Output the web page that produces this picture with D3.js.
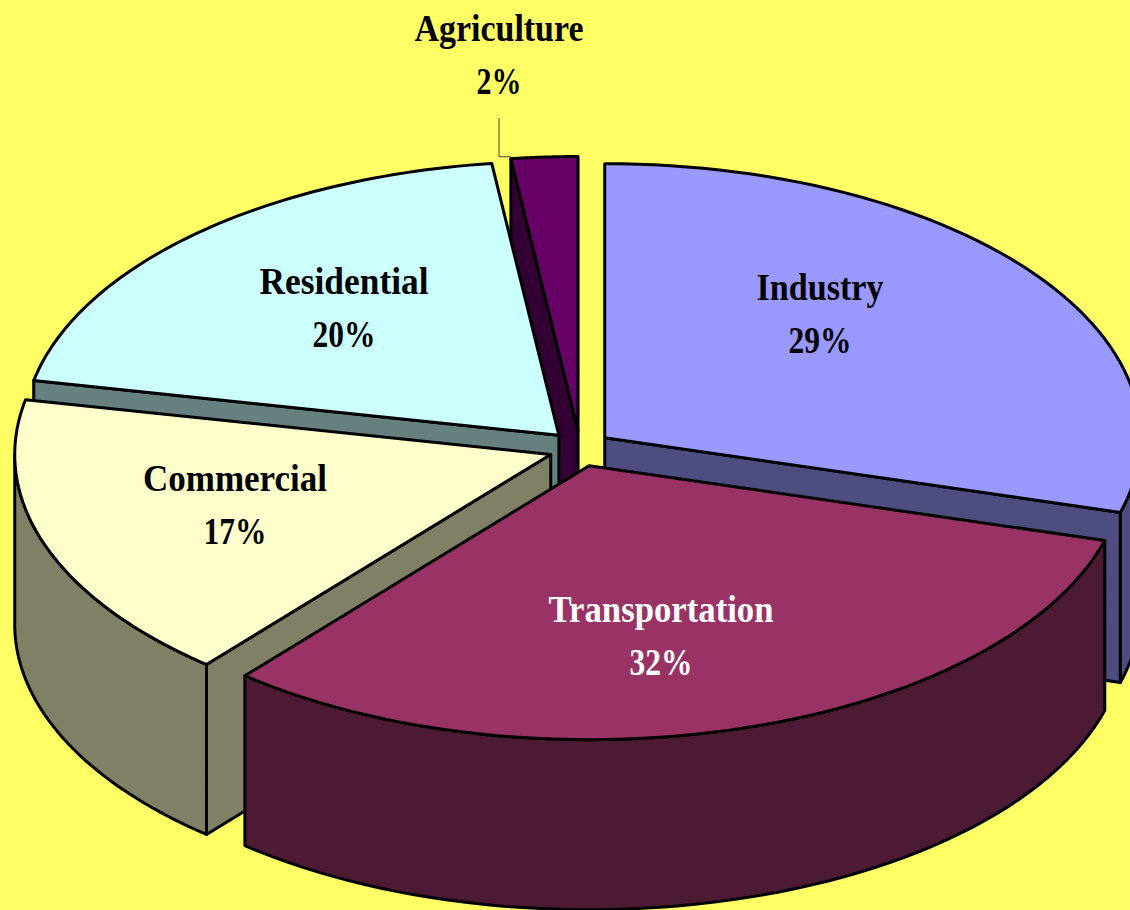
<!DOCTYPE html>
<html>
<head>
<meta charset="utf-8">
<script src="https://cdnjs.cloudflare.com/ajax/libs/d3/7.8.5/d3.min.js"></script>
<style>
html,body{margin:0;padding:0;background:#FFFF66;overflow:hidden}
svg{display:block}
text{font-family:"Liberation Serif",serif;font-weight:bold;font-size:38px;text-anchor:middle}
</style>
</head>
<body>
<svg id="c" width="1130" height="910"></svg>
<script>
// Data
const categories = ["Industry","Transportation","Commercial","Residential","Agriculture"];
const shares = [29.4,31.7,17.1,19.8,2];
const shareLabels = ["29%","32%","17%","20%","2%"];
const topColors = ["#9999FF","#993366","#FFFFCC","#CCFFFF","#660066"];
const wallColors = ["#4D4D80","#4D1A33","#808066","#668080","#330033"];
const labelColors = ["#000","#fff","#000","#000","#000"];
const drawOrder = ["Agriculture","Residential","Industry","Commercial","Transportation"];

// Layout
const W=1130,H=910,cx=580,cy=448.5,rx=536,ry=274,depth=170,explodeX=31,explodeY=18;
const labelAt = {Industry:[820,300],Transportation:[661,622],Commercial:[235,491],Residential:[344,294],Agriculture:[499,41]};
const labelWidths = {Industry:127,Transportation:225,Commercial:184,Residential:169,Agriculture:169};
const lineGap = 53;

const svg = d3.select("#c");
svg.append("rect").attr("width",W).attr("height",H).attr("fill","#FFFF66");

const arcs = d3.pie().sort(null).value(d=>d)(shares);
const line = d3.line();
const slices = categories.map((name,i)=>{
  const a = arcs[i], mid=(a.startAngle+a.endAngle)/2;
  return {name,i,a0:a.startAngle,a1:a.endAngle,
    ox:cx+explodeX*Math.sin(mid), oy:cy-explodeY*Math.cos(mid)};
});
const rim=(s,t,dz=0)=>[s.ox+rx*Math.sin(t), s.oy-ry*Math.cos(t)+dz];
const sample=(t0,t1)=>d3.range(0,61).map(k=>t0+(t1-t0)*k/60);
const quad=(s,t)=>[[s.ox,s.oy],rim(s,t),rim(s,t,depth),[s.ox,s.oy+depth]];
const paint=(g,pts,fill)=>g.append("path").attr("d",line(pts)+"Z")
  .attr("fill",fill).attr("stroke","#000").attr("stroke-width",3).attr("stroke-linejoin","round");

const byName = new Map(slices.map(s=>[s.name,s]));
const eps=1e-6;
drawOrder.forEach(n=>{
  const s=byName.get(n), g=svg.append("g").attr("class","slice");
  const wall=wallColors[s.i];
  // radial walls: only the ones that face the viewer
  if(Math.sin(s.a0)<-eps) paint(g,quad(s,s.a0),wall);
  if(Math.sin(s.a1)>eps) paint(g,quad(s,s.a1),wall);
  // outer wall: only the part of the rim that faces the viewer
  const t0=Math.max(s.a0,Math.PI/2), t1=Math.min(s.a1,3*Math.PI/2);
  if(t1>t0){
    const ts=sample(t0,t1);
    paint(g,ts.map(t=>rim(s,t)).concat(ts.slice().reverse().map(t=>rim(s,t,depth))),wall);
  }
  const top=[[s.ox,s.oy]].concat(sample(s.a0,s.a1).map(t=>rim(s,t)));
  paint(g,top,topColors[s.i]);
});

// Leader line for Agriculture
const ag=byName.get("Agriculture"), agPt=rim(ag,ag.a0);
svg.append("path").attr("fill","none").attr("stroke","#444422").attr("stroke-width",1)
  .attr("d",line([[labelAt.Agriculture[0],118],[labelAt.Agriculture[0],agPt[1]-2],[agPt[0],agPt[1]-2]]));

// Labels
categories.forEach((n,i)=>{
  const [x,y]=labelAt[n];
  svg.append("text").attr("x",x).attr("y",y).attr("fill",labelColors[i])
    .attr("textLength",labelWidths[n]).attr("lengthAdjust","spacingAndGlyphs").text(n);
  svg.append("text").attr("x",x).attr("y",y+lineGap).attr("fill",labelColors[i])
    .attr("textLength",shareLabels[i].length<3?45:63).attr("lengthAdjust","spacingAndGlyphs").text(shareLabels[i]);
});
</script>
</body>
</html>
